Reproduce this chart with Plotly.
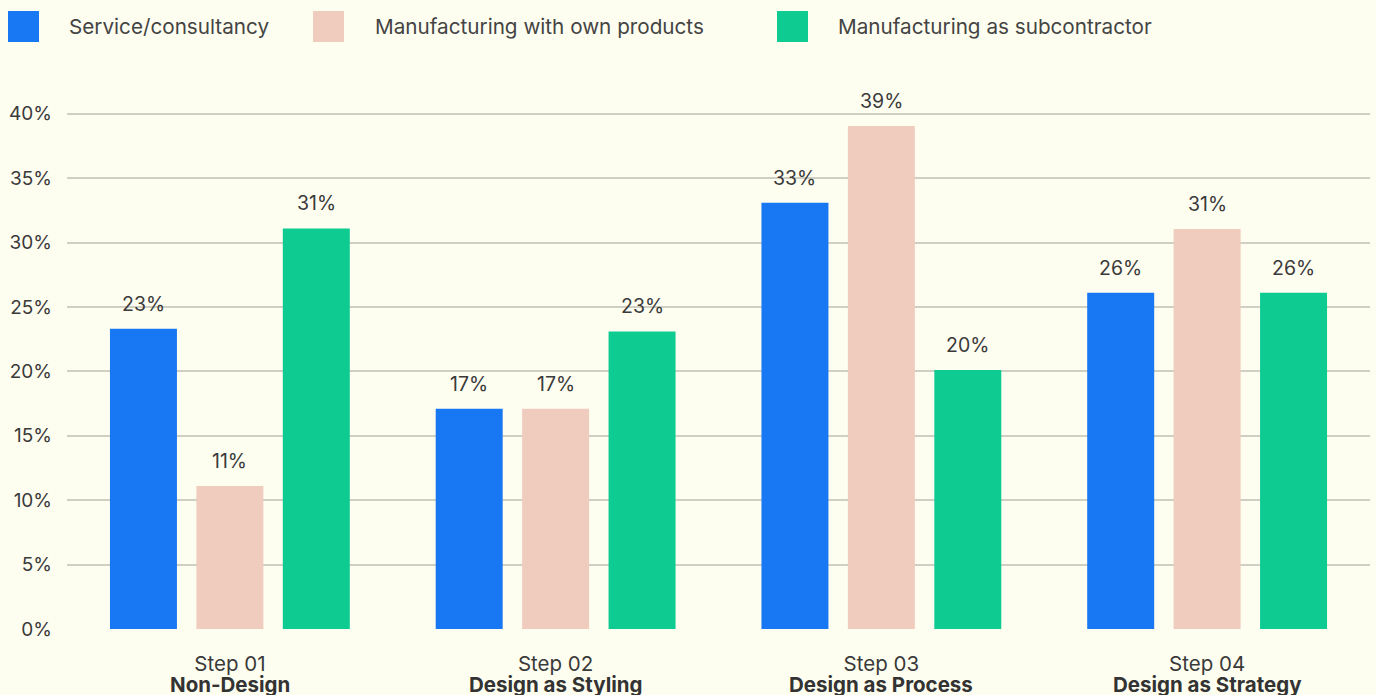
import plotly.graph_objects as go

categories = ["Step 01", "Step 02", "Step 03", "Step 04"]
category_names = ["Non-Design", "Design as Styling", "Design as Process", "Design as Strategy"]
series_names = ["Service/consultancy", "Manufacturing with own products", "Manufacturing as subcontractor"]
service = [23.3, 17.1, 33.1, 26.1]
manuf_own = [11.1, 17.1, 39.05, 31.05]
manuf_sub = [31.1, 23.1, 20.1, 26.1]
y_ticks = [0, 5, 10, 15, 20, 25, 30, 35, 40]

series = [service, manuf_own, manuf_sub]
colors = ["#1877F2", "#EFCCBE", "#0ECB92"]
BG = "#FEFEF0"
TXT = "#3a3a3a"
FONT = "Inter, Noto Sans, sans-serif"

fig = go.Figure()
for name, vals, col in zip(series_names, series, colors):
    fig.add_trace(go.Bar(x=categories, y=vals, name=name, marker=dict(color=col, line=dict(width=0)),
                         showlegend=False, hoverinfo="skip"))

annotations = []
slot = 86.5
for i, vals in enumerate(series):
    for c, v in zip(categories, vals):
        annotations.append(dict(x=c, y=v, xref="x", yref="y", text=f"{round(v)}%", showarrow=False,
                                xshift=(i - 1) * slot, yshift=25, yanchor="middle",
                                font=dict(size=19.5, color=TXT, family=FONT)))

# bold second line of category labels
for c, n in zip(categories, category_names):
    annotations.append(dict(x=c, y=0, xref="x", yref="paper", text=f"<b>{n}</b>", showarrow=False,
                            yshift=-55, yanchor="middle",
                            font=dict(size=20.5, color="#333333", family=FONT)))

# custom legend (large squares)
leg_sq_x = [8, 313, 777]
leg_txt_x = [67, 373, 836]
shapes = []
L, T = 67, 88
for name, col, sx, tx in zip(series_names, colors, leg_sq_x, leg_txt_x):
    shapes.append(dict(type="rect", xref="paper", yref="paper", xsizemode="pixel", ysizemode="pixel",
                       xanchor=0, yanchor=1, x0=sx - L, x1=sx + 31 - L, y0=T - 42, y1=T - 11,
                       fillcolor=col, line=dict(width=0)))
    annotations.append(dict(xref="paper", yref="paper", x=0, y=1, xshift=tx - L, yshift=T - 26.5,
                            xanchor="left", yanchor="middle", text=name, showarrow=False,
                            font=dict(size=20.7, color="#444444", family=FONT)))

fig.update_layout(
    width=1376, height=695,
    margin=dict(l=67, r=6, t=88, b=66),
    paper_bgcolor=BG, plot_bgcolor=BG,
    barmode="group", bargap=0.204, bargroupgap=0.225,
    font=dict(family=FONT, color=TXT, size=18),
    shapes=shapes, annotations=annotations,
    xaxis=dict(showgrid=False, showline=False, zeroline=False, ticks="",
               tickfont=dict(size=20.5, color=TXT, family=FONT), ticklabelstandoff=20),
    yaxis=dict(range=[0, 42], tickvals=y_ticks, ticktext=[f"{t}%" for t in y_ticks],
               showgrid=True, gridcolor="#CFCFC4", gridwidth=1.5, zeroline=False, showline=False,
               ticks="", tickfont=dict(size=19, color=TXT, family=FONT), ticklabelstandoff=14),
)

fig.write_html("out.html")
